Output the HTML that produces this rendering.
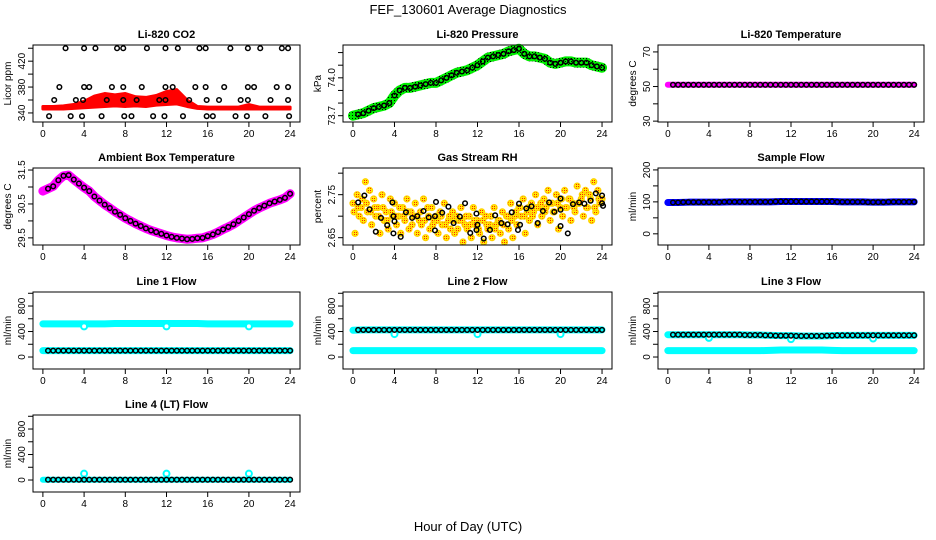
<!DOCTYPE html>
<html><head><meta charset="utf-8"><style>
html,body{margin:0;padding:0;background:#fff}
svg{display:block}
text{font-family:"Liberation Sans",sans-serif}
</style></head><body>
<svg id="chart" width="936" height="540" viewBox="0 0 936 540" xmlns="http://www.w3.org/2000/svg">
<defs>
<pattern id="gdots" width="3" height="3" patternUnits="userSpaceOnUse"><rect width="3" height="3" fill="#00ee00"/><rect x="1" y="1" width="1" height="1" fill="#000"/></pattern>
<pattern id="rdots" width="2" height="2" patternUnits="userSpaceOnUse"><rect width="2" height="2" fill="#ffee00"/><rect x="0" y="0" width="1" height="1" fill="#ff2000"/></pattern>
</defs>
<text x="468" y="14" text-anchor="middle" font-size="13">FEF_130601  Average Diagnostics</text>
<text x="468" y="531" text-anchor="middle" font-size="13">Hour of Day (UTC)</text>
</svg>
<script>
// ---- data ----
const xTicks = [0,4,8,12,16,20,24];
const halfHours = []; for (let i=0;i<=48;i++) halfHours.push(i/2);
const hours = []; for (let i=0;i<=24;i++) hours.push(i);

const co2Hours = [2.2,4.0,5.1,7.2,7.8,10.1,11.9,13.1,15.2,15.8,18.2,19.9,21.1,23.2,23.8,
 1.6,4.0,4.5,6.7,7.8,9.6,11.9,12.6,14.8,15.8,17.6,19.9,20.5,22.7,23.8,
 1.1,3.2,3.9,6.2,7.8,9.1,11.3,11.9,14.2,15.9,17.1,19.2,19.9,22.1,23.8,
 0.6,2.7,3.8,5.7,7.9,8.6,10.7,11.8,13.6,15.9,16.5,18.7,19.8,21.6,23.9];
const co2Values = [440,440,440,440,440,440,440,440,440,440,440,440,440,440,440,
 380,380,380,380,380,380,380,380,380,380,380,380,380,380,380,
 360,360,360,360,360,360,360,360,360,360,360,360,360,360,360,
 335,335,335,335,335,335,335,335,335,335,335,335,335,335,335];
const co2Low  = [346,346,346,347,348,349,350,351,350,351,350,352,353,354,350,347,346,346,346,346,346,346,346,346,346];
const co2High = [350,350,351,353,358,366,370,368,370,365,364,367,373,376,360,350,349,349,349,349,353,349,349,349,349];

const pressure = [73.70,73.71,73.72,73.74,73.76,73.77,73.78,73.80,73.86,73.90,73.92,73.92,73.93,73.94,73.95,73.96,73.96,73.98,74.00,74.02,74.04,74.05,74.06,74.08,74.10,74.13,74.16,74.17,74.18,74.19,74.21,74.22,74.23,74.19,74.17,74.17,74.16,74.15,74.12,74.11,74.12,74.13,74.13,74.12,74.12,74.12,74.10,74.09,74.08];
const liTemp = [51,51,51,51,51,51,51,51,51,51,51,51,51,51,51,51,51,51,51,51,51,51,51,51,51];
const ambient = [30.88,30.95,31.02,31.2,31.33,31.35,31.22,31.1,30.98,30.88,30.72,30.6,30.48,30.38,30.27,30.18,30.08,30.0,29.92,29.85,29.78,29.72,29.67,29.62,29.57,29.53,29.5,29.48,29.46,29.47,29.49,29.5,29.55,29.6,29.67,29.75,29.82,29.9,30.0,30.1,30.2,30.3,30.38,30.45,30.52,30.57,30.62,30.68,30.8];

const rhA = [2.73,2.75,2.72,2.78,2.76,2.74,2.72,2.75,2.71,2.74,2.73,2.70,2.72,2.74,2.71,2.73,2.69,2.74,2.72,2.72,2.70,2.71,2.73,2.69,2.71,2.70,2.72,2.68,2.70,2.72,2.69,2.71,2.70,2.68,2.72,2.69,2.71,2.70,2.73,2.70,2.72,2.74,2.71,2.73,2.75,2.72,2.74,2.76,2.73,2.75,2.72,2.76,2.74,2.73,2.77,2.74,2.76,2.75,2.78,2.76,2.74];
const rhB = [2.66,2.70,2.69,2.71,2.68,2.70,2.66,2.69,2.67,2.70,2.68,2.66,2.69,2.67,2.70,2.66,2.68,2.65,2.67,2.69,2.66,2.68,2.65,2.67,2.66,2.69,2.64,2.67,2.65,2.68,2.66,2.64,2.67,2.65,2.68,2.66,2.64,2.67,2.65,2.68,2.70,2.66,2.69,2.71,2.68,2.70,2.72,2.69,2.71,2.67,2.70,2.72,2.69,2.71,2.73,2.70,2.72,2.69,2.71,2.73,2.72];
const rhC = [2.71,2.72,2.74,2.73,2.71,2.72,2.70,2.72,2.69,2.71,2.70,2.72,2.70,2.71,2.68,2.70,2.71,2.69,2.70,2.68,2.69,2.70,2.68,2.70,2.69,2.67,2.69,2.70,2.68,2.69,2.67,2.69,2.68,2.70,2.67,2.69,2.68,2.70,2.69,2.71,2.72,2.70,2.72,2.70,2.72,2.73,2.71,2.73,2.71,2.73,2.74,2.72,2.74,2.72,2.73,2.75,2.72,2.74,2.72,2.74,2.73];
const rhBlackHours = [0.5,1.1,1.6,2.2,2.7,3.3,3.8,3.9,4.0,3.9,4.6,5.1,5.7,6.2,6.8,7.3,7.9,7.9,8.0,8.6,9.2,9.7,10.3,10.8,11.3,11.9,12.0,11.9,12.6,13.2,13.7,14.3,14.9,15.3,16.0,16.1,15.9,16.7,17.2,17.8,18.3,18.9,19.4,20.0,20.0,20.0,20.7,21.2,21.8,22.3,22.9,23.4,24.0,24.0,24.1];
const rhBlackValues = [2.732,2.748,2.716,2.664,2.696,2.679,2.732,2.70,2.688,2.66,2.652,2.709,2.696,2.70,2.712,2.697,2.70,2.667,2.733,2.708,2.722,2.684,2.699,2.73,2.661,2.706,2.68,2.668,2.648,2.668,2.702,2.684,2.681,2.709,2.729,2.68,2.668,2.718,2.723,2.684,2.712,2.732,2.71,2.741,2.715,2.677,2.66,2.728,2.732,2.729,2.736,2.753,2.748,2.73,2.724];

const sampleFlow = [98,98,99,99,99,99,100,100,100,100,100,101,101,101,101,101,101,100,100,100,99,99,100,100,100];
const line1High = [520,520,520,520,480,520,520,525,525,525,525,525,480,525,525,525,520,520,520,520,480,520,520,520,520];
const line1Low  = [100,100,100,100,100,100,100,100,100,100,100,100,100,100,100,100,100,100,100,100,100,100,100,100,100];
const line2High = [420,425,425,425,360,425,425,425,425,425,425,425,360,425,425,425,425,425,425,425,360,425,425,425,425];
const line2Low  = [100,100,100,100,100,100,100,100,100,100,100,100,100,100,100,100,100,100,100,100,100,100,100,100,100];
const line3High = [350,350,350,350,300,350,350,350,345,345,340,335,280,330,330,330,335,340,340,340,290,340,340,340,340];
const line3Low  = [100,100,100,100,100,100,100,100,100,100,105,110,110,110,110,110,105,100,100,100,100,100,100,100,100];
const line4Base = [5,5,5,5,100,5,5,5,5,5,5,5,100,5,5,5,5,5,5,5,100,5,5,5,5];
const line4Black = [5,5,5,5,5,5,5,5,5,5,5,5,5,5,5,5,5,5,5,5,5,5,5,5,5];

// ---- layout ----
const NS = "http://www.w3.org/2000/svg";
const svg = document.getElementById('chart');
const rowTops = [45,168,292,415], PH = 77;
const cols = [[33,300],[343,612],[658,924]];
function mk(tag, attrs, parent){ const e=document.createElementNS(NS,tag); for(const k in attrs) e.setAttribute(k,attrs[k]); (parent||svg).appendChild(e); return e; }

function panel(name, r, c, title, ylab, ylim, yTicks, yLabels){
  const g = mk('g',{});
  
  
  const L=cols[c][0], R=cols[c][1], T=rowTops[r], B=T+PH;
  const sx = h => L + (h+0.96)/25.92*(R-L);
  const sy = v => B - (v-ylim[0])/(ylim[1]-ylim[0])*PH;
  const plot = mk('g',{},g);
  
  
  const box = mk('rect',{x:L,y:T,width:R-L,height:PH,fill:'none',stroke:'#000','stroke-width':1},g);
  
  
  const t = mk('text',{x:(L+R)/2,y:T-7,'text-anchor':'middle','font-size':11,'font-weight':'bold'},g);
  t.textContent = title;
  
  
  const yl = mk('text',{x:0,y:0,'text-anchor':'middle','font-size':10,transform:`translate(${L-22},${T+PH/2}) rotate(-90)`},g);
  yl.textContent = ylab;
  
  
  xTicks.forEach(h=>{
    mk('line',{x1:sx(h),x2:sx(h),y1:B,y2:B+5,stroke:'#000'},g);
    const tx = mk('text',{x:sx(h),y:B+15,'text-anchor':'middle','font-size':10},g);
    tx.textContent = h;
    
    
  });
  yTicks.forEach(v=>{
    mk('line',{x1:L,x2:L-5,y1:sy(v),y2:sy(v),stroke:'#000'},g);
  });
  yLabels.forEach(s=>{
    const v = parseFloat(s);
    const ty = mk('text',{x:0,y:0,'text-anchor':'middle','font-size':10,transform:`translate(${L-8},${sy(v)}) rotate(-90)`},g);
    ty.textContent = s;
    
    
  });
  return {g:plot, sx, sy};
}
function band(p, xs, ys, color, w, name){
  const pts = xs.map((h,i)=>p.sx(h)+','+p.sy(ys[i])).join(' ');
  const pl = mk('polyline',{points:pts,fill:'none',stroke:color,'stroke-width':w,'stroke-linejoin':'round','stroke-linecap':'round'},p.g);
  
  
}
function circles(p, xs, ys, color, r, sw, name, fromIdx){
  xs.forEach((h,i)=>{
    if (fromIdx && h < fromIdx) return;
    const c = mk('circle',{cx:p.sx(h),cy:p.sy(ys[i]),r:r,fill:'none',stroke:color,'stroke-width':sw},p.g);
    
    
  });
}

// CO2
let p = panel('co2',0,0,'Li-820 CO2','Licor ppm',[326,445],[340,360,380,400,420,440],['340','380','420']);
{
  const top = hours.map((h,i)=>p.sx(h)+','+p.sy(co2High[i]));
  const bot = hours.map((h,i)=>p.sx(h)+','+p.sy(co2Low[i])).reverse();
  const poly = mk('polygon',{points:top.concat(bot).join(' '),fill:'#ff0000',stroke:'#ff0000','stroke-width':3,'stroke-linejoin':'round'},p.g);
  
  
  circles(p, co2Hours, co2Values, '#000', 2.3, 1.5, 'co2-point');
}
// Pressure
p = panel('pressure',0,1,'Li-820 Pressure','kPa',[73.65,74.26],[73.7,73.8,73.9,74.0,74.1,74.2],['73.7','74.0']);
band(p, halfHours, pressure, 'url(#gdots)', 10, 'pressure-band');
circles(p, halfHours, pressure, '#000', 2.3, 1.5, 'pressure-point', 0.5);
// Li temp
p = panel('li-temp',0,2,'Li-820 Temperature','degrees C',[29.5,74],[30,40,50,60,70],['30','50','70']);
band(p, hours, liTemp, '#ff00ff', 6, 'li-temp-band');
circles(p, halfHours, halfHours.map((h)=>liTemp[Math.round(h)]), '#000', 2.3, 1.5, 'li-temp-point', 0.5);
// Ambient
p = panel('ambient',1,0,'Ambient Box Temperature','degrees C',[29.29,31.56],[29.5,30,30.5,31,31.5],['29.5','30.5','31.5']);
band(p, halfHours, ambient, '#ff00ff', 9, 'ambient-band');
circles(p, halfHours, ambient, '#000', 2.3, 1.5, 'ambient-point', 0.5);
// RH
p = panel('rh',1,1,'Gas Stream RH','percent',[2.633,2.812],[2.65,2.70,2.75,2.80],['2.65','2.75']);
{
  const ha = rhA.map((v,i)=>i*0.4), hb = rhB.map((v,i)=>0.2+i*0.4), hc = rhC.map((v,i)=>0.1+i*0.4);
  [[ha,rhA],[hb,rhB],[hc,rhC]].forEach(([xs,ys])=>{
    xs.forEach((h,i)=>{
      if (h>24) return;
      const c = mk('circle',{cx:p.sx(h),cy:p.sy(ys[i]),r:3,fill:'url(#rdots)',stroke:'#ffd000','stroke-width':1.2},p.g);
      
      
    });
  });
  circles(p, rhBlackHours, rhBlackValues, '#000', 2.3, 1.5, 'rh-point');
}
// Sample flow
p = panel('sample-flow',1,2,'Sample Flow','ml/min',[-35,206],[0,50,100,150,200],['0','100','200']);
band(p, hours, sampleFlow, '#0000ff', 7, 'sample-flow-band');
circles(p, halfHours, halfHours.map(h=>sampleFlow[Math.round(h)]), '#000', 2.3, 1.5, 'sample-flow-point', 0.5);
// Line flows
const flowLim=[-188,1020], flowTicks=[0,200,400,600,800,1000], flowLabels=['0','400','800'];
function flowPanel(name,r,c,title,hi,lo,blackOnHigh){
  const q = panel(name,r,c,title,'ml/min',flowLim,flowTicks,flowLabels);
  const isDip = i => i>0 && hi[i] < hi[i-1]-30;
  const hiBand = hi.map((v,i)=> isDip(i) ? hi[i-1] : v);
  band(q, hours, hiBand, '#00ffff', 7, name+'-cyan-high');
  band(q, hours, lo, '#00ffff', 7, name+'-cyan-low');
  hours.forEach((h,i)=>{ if(isDip(i)){ const cc=mk('circle',{cx:q.sx(h),cy:q.sy(hi[i]),r:3,fill:'#fff',stroke:'#00ffff','stroke-width':2},q.g);   } });
  const bl = blackOnHigh ? hiBand : lo;
  const bv = halfHours.map(h=>bl[Math.round(h)]);
  circles(q, halfHours, bv, '#000', 2.3, 1.5, name+'-point', 0.5);
}
flowPanel('line1-flow',2,0,'Line 1 Flow',line1High,line1Low,false);
flowPanel('line2-flow',2,1,'Line 2 Flow',line2High,line2Low,true);
flowPanel('line3-flow',2,2,'Line 3 Flow',line3High,line3Low,true);
p = panel('line4-flow',3,0,'Line 4 (LT) Flow','ml/min',flowLim,flowTicks,flowLabels);
band(p, hours, line4Black, '#00ffff', 6, 'line4-cyan-band');
hours.forEach((h,i)=>{ if(line4Base[i]>50){ const cc=mk('circle',{cx:p.sx(h),cy:p.sy(line4Base[i]),r:3,fill:'#fff',stroke:'#00ffff','stroke-width':2},p.g);   } });
circles(p, halfHours, halfHours.map(h=>line4Black[Math.round(h)]), '#000', 2.3, 1.5, 'line4-point', 0.5);
</script>
</body></html>
